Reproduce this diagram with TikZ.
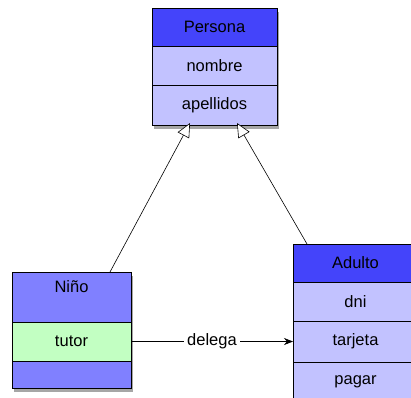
\documentclass[tikz,border=0pt]{standalone}
\usepackage{fontspec}
\setmainfont{Liberation Sans}
\usetikzlibrary{arrows.meta,shadows,positioning}

\definecolor{headblue}{RGB}{68,68,250}
\definecolor{midblue}{RGB}{128,128,255}
\definecolor{lavender}{RGB}{194,194,255}
\definecolor{mint}{RGB}{194,255,194}

\begin{document}
\begin{tikzpicture}[x=1pt,y=-1pt,
  compartment/.style={draw=black, line width=0.8pt, inner sep=0pt, outer sep=0pt,
    font=\fontsize{16.5}{19}\selectfont, anchor=north west},
  classshadow/.style={fill=white, inner sep=0pt, outer sep=0pt, anchor=north west,
    drop shadow={opacity=0.7, shadow xshift=1.5pt, shadow yshift=-3.5pt}},
  inherit/.style={line width=0.6pt, -{Triangle[open, length=14pt, width=13pt, fill=white]}},
  assoc/.style={line width=0.6pt, -{Stealth[length=9pt, width=7pt]}}
]
\useasboundingbox (0,0) rectangle (411,397);
\clip (0,0) rectangle (411,397);

% class Persona
\node[classshadow, minimum width=125pt, minimum height=117pt] (persS) at (152,8) {};
\node[compartment, fill=headblue, minimum width=125pt, minimum height=38pt] (persH) at (152,8) {Persona};
\node[compartment, fill=lavender, minimum width=125pt, minimum height=39pt] (persN) at (152,46) {nombre};
\node[compartment, fill=lavender, minimum width=125pt, minimum height=40pt] (persA) at (152,85) {apellidos};

% class Niño
\node[classshadow, minimum width=119pt, minimum height=116pt] (ninoS) at (12,272) {};
\node[compartment, fill=midblue, minimum width=119pt, minimum height=50pt, text depth=20pt] (ninoH) at (12,272) {Niño};
\node[compartment, fill=mint, minimum width=119pt, minimum height=39pt] (ninoT) at (12,322) {tutor};
\node[compartment, fill=midblue, minimum width=119pt, minimum height=27pt] (ninoB) at (12,361) {};

% class Adulto
\node[classshadow, minimum width=125pt, minimum height=157pt] (adS) at (293,244) {};
\node[compartment, fill=headblue, minimum width=125pt, minimum height=38pt] (adH) at (293,244) {Adulto};
\node[compartment, fill=lavender, minimum width=125pt, minimum height=39pt] (adD) at (293,282) {dni};
\node[compartment, fill=lavender, minimum width=125pt, minimum height=41pt] (adT) at (293,321) {tarjeta};
\node[compartment, fill=lavender, minimum width=125pt, minimum height=39pt] (adP) at (293,362) {pagar};

% generalizations
\draw[inherit] ([xshift=98pt]ninoH.north west) -- ([xshift=38pt,yshift=2pt]persA.south west);
\draw[inherit] ([xshift=14pt]adH.north west) -- ([xshift=85pt,yshift=2pt]persA.south west);

% association
\draw[assoc] (ninoT.east) -- node[fill=white, inner sep=3pt, font=\fontsize{16.5}{19}\selectfont] (lbl) {delega} (ninoT.east -| adT.west);
\end{tikzpicture}
\end{document}
